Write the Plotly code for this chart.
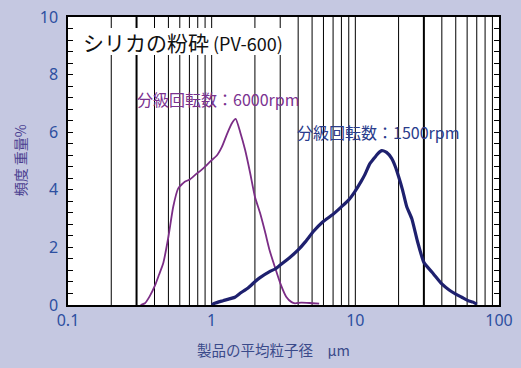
import plotly.graph_objects as go

# ---- data ----
purple_x = [0.32, 0.343, 0.37, 0.404, 0.43, 0.46, 0.5, 0.54, 0.585, 0.65, 0.706, 0.79, 0.83, 0.92,
            1.0, 1.09, 1.18, 1.27, 1.38, 1.47, 1.58, 1.71, 1.85, 2.0, 2.17, 2.35, 2.53, 2.75, 3.0,
            3.3, 3.6, 3.8, 4.2, 4.8, 5.6]
purple_y = [0, 0.06, 0.3, 0.69, 1.05, 1.45, 2.37, 3.41, 4.05, 4.28, 4.36, 4.57, 4.65, 4.85,
            5.03, 5.2, 5.5, 5.9, 6.3, 6.46, 6.0, 5.38, 4.6, 3.76, 3.2, 2.55, 1.9, 1.33, 0.76,
            0.29, 0.1, 0.06, 0.08, 0.07, 0.05]

navy_x = [1.0, 1.05, 1.2, 1.45, 1.57, 1.8, 2.0, 2.17, 2.53, 2.76, 3.0, 3.5, 4.0, 4.5, 5.1, 5.95,
          7.0, 8.0, 9.0, 9.9, 11.0, 11.6, 12.6, 13.3, 14.3, 15.3, 16.5, 17.9, 19.0, 20.0, 21.3,
          22.8, 24.7, 27.0, 30.0, 35.0, 40.0, 45.0, 50.0, 55.0, 61.0, 66.0, 70.0]
navy_y = [0, 0.06, 0.15, 0.27, 0.4, 0.6, 0.81, 0.95, 1.16, 1.25, 1.39, 1.65, 1.91, 2.2, 2.55, 2.89,
          3.15, 3.41, 3.65, 3.93, 4.3, 4.51, 4.9, 5.05, 5.25, 5.36, 5.3, 5.09, 4.8, 4.46, 4.0,
          3.41, 3.0, 2.23, 1.48, 1.08, 0.73, 0.52, 0.38, 0.27, 0.15, 0.1, 0.03]

grid_thin = [0.2, 0.4, 0.5, 0.6, 0.7, 0.8, 0.9, 1, 2, 3, 4, 5, 6, 7, 8, 9, 10,
             20, 40, 50, 60, 70, 80, 90]
grid_thick = [0.3, 30]

x_ticks = [0.1, 1, 10, 100]
x_tick_text = ["0.1", "1", "10", "100"]

title_main = "シリカの粉砕"
title_sub = " (PV-600)"
label_6000 = "分級回転数：6000rpm"
label_1500 = "分級回転数：1500rpm"
x_title = "製品の平均粒子径　μm"
y_title = "頻度 重量%"

BG = "#C5C8E1"
TICK_C = "#2D4FA0"
FONT = "Noto Sans, Noto Sans CJK JP, sans-serif"
CJK = "Noto Sans CJK JP, sans-serif"


def vlines(xs):
    gx, gy = [], []
    for v in xs:
        gx += [v, v, None]
        gy += [0, 10, None]
    return gx, gy


fig = go.Figure()
gx, gy = vlines(grid_thin)
fig.add_trace(go.Scatter(x=gx, y=gy, mode="lines", line=dict(color="black", width=1),
                         hoverinfo="skip", showlegend=False))
gx, gy = vlines(grid_thick)
fig.add_trace(go.Scatter(x=gx, y=gy, mode="lines", line=dict(color="black", width=2),
                         hoverinfo="skip", showlegend=False))

fig.add_trace(go.Scatter(x=purple_x, y=purple_y, mode="lines",
                         line=dict(color="#7B2D86", width=1.8, shape="spline", smoothing=0.5),
                         showlegend=False))
fig.add_trace(go.Scatter(x=navy_x, y=navy_y, mode="lines",
                         line=dict(color="#1E206E", width=3.2, shape="spline", smoothing=0.5),
                         showlegend=False))

fig.update_layout(
    width=521, height=368,
    margin=dict(l=68, r=22, t=17, b=63, autoexpand=False),
    paper_bgcolor=BG, plot_bgcolor="white",
    font=dict(family=FONT, color=TICK_C, size=15),
    showlegend=False,
)
fig.update_xaxes(type="log", range=[-1, 2], tickvals=x_ticks, ticktext=x_tick_text,
                 showgrid=False, zeroline=False, showline=True, linecolor="black",
                 linewidth=1.5, mirror=True, ticks="", automargin=False,
                 tickfont=dict(size=16, color=TICK_C, family=FONT))
fig.update_yaxes(range=[0, 10], dtick=2, showgrid=False, zeroline=False, showline=True,
                 linecolor="black", linewidth=1.5, mirror="ticks", ticks="inside",
                 ticklen=5, tickcolor="black", automargin=False,
                 minor=dict(dtick=0.4, ticks="inside", ticklen=5, tickcolor="black"),
                 ticklabelstandoff=5,
                 tickfont=dict(size=16, color=TICK_C, family=FONT))

fig.add_shape(type="rect", xref="paper", yref="paper", x0=0.02, x1=0.497, y0=0.868, y1=0.962,
              fillcolor="white", line=dict(width=0), layer="above")


def note(x, y, text, size, color, angle=0):
    fig.add_annotation(xref="paper", yref="paper", x=x, y=y, text=text,
                       xanchor="center", yanchor="middle", textangle=angle,
                       showarrow=False, font=dict(family=CJK, size=size, color=color))


note(0.267, 0.913, title_main + "<span style='font-size:18px'>" + title_sub + "</span>",
     21, "#111111")
note(0.347, 0.715, label_6000, 16, "#7B3290")
note(0.719, 0.601, label_1500, 16, "#2A3C8C")
note(0.476, -0.156, x_title, 14.5, "#3A4A8A")
note(-0.111, 0.503, y_title, 14, "#4A3F90", angle=-90)

fig.write_html("out.html", config={"displayModeBar": False},
               post_script="document.body.style.margin='0';document.body.style.overflow='hidden';")
